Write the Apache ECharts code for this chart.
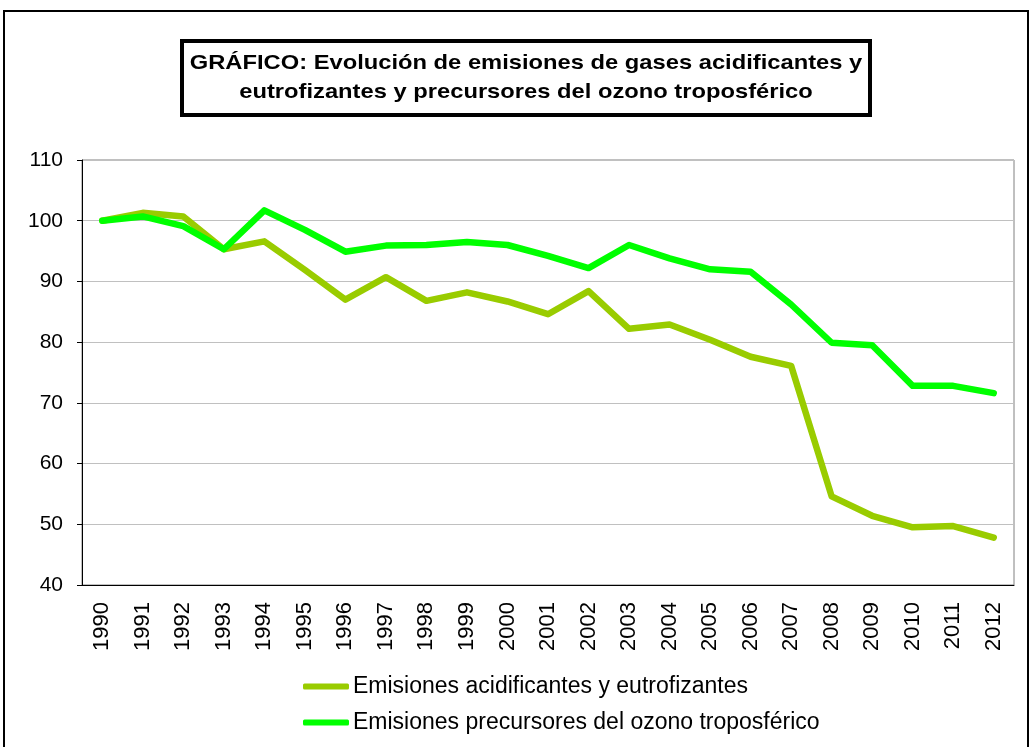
<!DOCTYPE html>
<html>
<head>
<meta charset="utf-8">
<script src="https://cdn.jsdelivr.net/npm/echarts@6/dist/echarts.min.js"></script>
<style>
  html, body { margin: 0; padding: 0; background: #fff; }
  #chart { width: 1032px; height: 747px; }
</style>
</head>
<body>
<div id="chart"></div>
<script>
// años
const years = ['1990', '1991', '1992', '1993', '1994', '1995', '1996', '1997', '1998', '1999', '2000',
    '2001', '2002', '2003', '2004', '2005', '2006', '2007', '2008', '2009', '2010', '2011', '2012'];

// índice 1990 = 100
const acidificantes = [100, 101.3, 100.7, 95.3, 96.6, 91.9, 87.0, 90.7, 86.8, 88.2, 86.7,
    84.6, 88.4, 82.2, 82.9, 80.4, 77.6, 76.1, 54.6, 51.4, 49.5, 49.7, 47.8];
const ozono = [100, 100.7, 99.1, 95.3, 101.7, 98.5, 94.9, 95.9, 96.0, 96.5, 96.0,
    94.2, 92.2, 96.0, 93.8, 92.0, 91.6, 86.2, 79.9, 79.5, 72.8, 72.8, 71.6];

const yTicks = {min: 40, max: 110, interval: 10};

const titleLines = ['GRÁFICO: Evolución de emisiones de gases acidificantes y',
    'eutrofizantes y precursores del ozono troposférico'];
const seriesNames = ['Emisiones acidificantes y eutrofizantes', 'Emisiones precursores del ozono troposférico'];

const chart = echarts.init(document.getElementById('chart'), null, {renderer: 'canvas'});

const font = 'Arial, "Liberation Sans", sans-serif';

chart.setOption({
    animation: false,
    textStyle: {fontFamily: font},
    grid: {
        left: 82, right: 18, top: 160, bottom: 162,
        show: true, borderColor: '#808080', borderWidth: 1
    },
    legend: {
        orient: 'vertical',
        left: 303,
        top: 675,
        padding: 0,
        icon: 'roundRect',
        itemWidth: 46,
        itemHeight: 6,
        itemGap: 13,
        textStyle: {fontSize: 23, color: '#000', fontFamily: font, padding: [0, 0, 0, -1]},
        data: seriesNames
    },
    xAxis: {
        type: 'category',
        data: years,
        boundaryGap: true,
        axisLine: {lineStyle: {color: '#000', width: 1}},
        axisTick: {length: 6, lineStyle: {color: '#000'}},
        axisLabel: {rotate: 90, fontSize: 22, color: '#000', margin: 17, interval: 0}
    },
    yAxis: {
        type: 'value',
        min: yTicks.min,
        max: yTicks.max,
        interval: yTicks.interval,
        axisLine: {show: true, lineStyle: {color: '#000', width: 1}},
        axisTick: {show: true, length: 5, lineStyle: {color: '#000'}},
        axisLabel: {fontSize: 21, color: '#000', margin: 19},
        splitLine: {lineStyle: {color: '#c0c0c0', width: 1}}
    },
    series: [
        {
            name: seriesNames[0],
            type: 'line',
            data: acidificantes,
            showSymbol: false,
            symbol: 'none',
            color: '#99cc00',
            lineStyle: {width: 6.5, color: '#99cc00', cap: 'round', join: 'round'},
            z: 2
        },
        {
            name: seriesNames[1],
            type: 'line',
            data: ozono,
            showSymbol: false,
            symbol: 'none',
            color: '#00ff00',
            lineStyle: {width: 6.5, color: '#00ff00', cap: 'round', join: 'round'},
            z: 3
        }
    ],
    graphic: [
        // marco exterior
        {
            type: 'rect',
            shape: {x: 4, y: 11, width: 1024, height: 760},
            style: {fill: 'none', stroke: '#000', lineWidth: 2},
            silent: true
        },
        // caja del título
        {
            type: 'rect',
            shape: {x: 182, y: 41, width: 688, height: 74},
            style: {fill: '#fff', stroke: '#000', lineWidth: 4},
            silent: true
        },
        {
            type: 'text',
            x: 526,
            y: 78,
            scaleX: 1.13,
            style: {
                text: titleLines.join('\n'),
                font: 'bold 21px ' + font,
                fill: '#000',
                align: 'center',
                verticalAlign: 'middle',
                lineHeight: 29
            },
            silent: true
        }
    ]
});
</script>
</body>
</html>
